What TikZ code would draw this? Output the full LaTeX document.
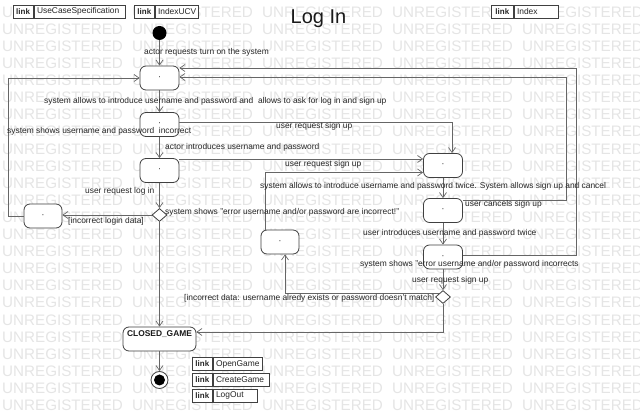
\documentclass[tikz,border=0pt]{standalone}
\usepackage{fontspec}
\setmainfont{Liberation Sans}
\usetikzlibrary{arrows.meta,shapes.geometric,calc}
\begin{document}
\begin{tikzpicture}[x=1pt,y=-1pt,
  font=\fontsize{8.4}{10}\selectfont,
  act/.style={draw=black!75, fill=white, rounded corners=6pt, minimum width=39pt, minimum height=24pt, inner sep=0pt, line width=0.8pt},
  dec/.style={diamond, draw=black!75, fill=white, minimum width=15pt, minimum height=13pt, inner sep=0pt, line width=0.8pt},
  lbl/.style={anchor=west, inner sep=0pt, text=black!85},
  flow/.style={draw=black!60, line width=0.7pt, -{Straight Barb[length=5pt,width=7pt]}},
  wm/.style={anchor=west, inner sep=0pt, text=black!10, font=\fontsize{15.2}{16}\selectfont},
  lk/.style={draw=black!75, fill=white, anchor=west, minimum height=13pt, inner sep=0pt, line width=0.7pt, text=black!85},
  lkh/.style={lk, minimum width=#1, font=\bfseries\fontsize{8}{9}\selectfont},
  lkt/.style={lk, text width=#1, align=left, inner xsep=3pt}
]
\useasboundingbox (0,0) rectangle (640,419);
\fill[white] (0,0) rectangle (640,419);
% watermark
\foreach \r in {0,...,23}{
  \foreach \c in {0,...,4}{
    \node[wm] (wm-\r-\c) at ({2+130*\c},{12+17.1*\r}) {UNREGISTERED};
  }
}
% title and links
\node[font=\fontsize{20}{24}\selectfont, text=black!90] (title) at (318.5,19) {Log In};
\node[lkh=20.5pt] (k1a) at (12.5,11.5) {link};
\node[lkt=85pt] (k1b) at (k1a.east) {UseCaseSpecification};
\node[lkh=20pt] (k2a) at (134,11.5) {link};
\node[lkt=37pt] (k2b) at (k2a.east) {IndexUCV};
\node[lkh=22pt] (k3a) at (491,11.5) {link};
\node[lkt=38pt] (k3b) at (k3a.east) {Index};
\node[lkh=20pt] (k4a) at (192,364) {link};
\node[lkt=43pt] (k4b) at (k4a.east) {OpenGame};
\node[lkh=20pt] (k5a) at (192,379.5) {link};
\node[lkt=50pt] (k5b) at (k5a.east) {CreateGame};
\node[lkh=20pt] (k6a) at (192,395.5) {link};
\node[lkt=38pt] (k6b) at (k6a.east) {LogOut};
% nodes
\node[circle, fill=black, minimum size=14pt, inner sep=0pt] (init) at (159.5,33) {};
\node[act] (A1) at (159.5,78) {·};
\node[act] (A2) at (159.5,124.5) {·};
\node[act] (A3) at (159.5,170.5) {·};
\node[dec] (D1) at (159.5,215) {};
\node[act, minimum width=38pt] (L) at (43,216) {·};
\node[act, minimum width=73pt] (CG) at (159.5,339) {};
\node[font=\bfseries\fontsize{8.4}{10}\selectfont, inner sep=0pt, text=black!90] (CGt) at (159.5,334) {CLOSED\_GAME};
\node[circle, draw=black!75, fill=white, line width=0.8pt, minimum size=17pt, inner sep=0pt] (fin) at (159.5,380) {};
\node[circle, fill=black, minimum size=11pt, inner sep=0pt] (finin) at (fin) {};
\node[act] (B1) at (443,165.5) {·};
\node[act] (B2) at (443,210.5) {·};
\node[act] (B3) at (443,257) {·};
\node[dec] (D2) at (443,297) {};
\node[act, minimum width=38pt] (C) at (280,242) {·};
\coordinate (ri) at (566,77);
\coordinate (ro) at (576,68);
% connectors
\draw[flow] (init) -- (A1);
\draw[flow] (A1) -- (A2);
\draw[flow] (A2) -- (A3);
\draw[flow] (A3) -- (D1);
\draw[flow] (D1.west) -- (D1.west -| L.east);
\draw[flow] (L.west) -- ++(-15,0) |- (A1.west);
\draw[flow] (D1) -- (CG);
\draw[flow] ([yshift=2.5pt]A2.east) -| ([xshift=9pt]B1.north);
\draw[flow] ([yshift=11.5pt]A3.east) -- ([yshift=11.5pt]A3.east -| B1.west);
\draw[flow] ([xshift=-15pt]C.north) |- ([yshift=-7pt]B1.west);
\draw[flow] (B1) -- (B2);
\draw[flow] ([yshift=10pt]B2.east) -| (ri) -- (ri -| A1.east);
\draw[flow] (B2) -- (B3);
\draw[flow] ([yshift=2pt]B3.east) -| (ro) -- (ro -| A1.east);
\draw[flow] (B3) -- (D2);
\draw[flow] (D2.north west) -| ([xshift=5pt]C.south);
\draw[flow] (D2.south) |- ([yshift=7pt]CG.east);
\draw[flow] (CG) -- (fin);
% labels
\node[lbl] (l1) at (144,52) {actor requests turn on the system};
\node[lbl] (l2) at (44,101) {system allows to introduce username and password and\ \ allows to ask for log in and sign up};
\node[lbl] (l3) at (7,131) {system shows username and password\ \ incorrect};
\node[lbl] (l4) at (276,126.5) {user request sign up};
\node[lbl] (l5) at (165,147) {actor introduces username and password};
\node[lbl] (l6) at (285,164) {user request sign up};
\node[lbl] (l7) at (85,191) {user request log in};
\node[lbl] (l8) at (165,212) {system shows "error username and/or password are incorrect!"};
\node[lbl] (l9) at (68,221.5) {[incorrect login data]};
\node[lbl] (l10) at (260,186) {system allows to introduce username and password twice. System allows sign up and cancel};
\node[lbl] (l11) at (465,204) {user cancels sign up};
\node[lbl] (l12) at (363,233) {user introduces username and password twice};
\node[lbl] (l13) at (360,264) {system shows "error username and/or password incorrects};
\node[lbl] (l14) at (412,280) {user request sign up};
\node[lbl] (l15) at (184,298) {[incorrect data: username alredy exists or password doesn't match]};
\end{tikzpicture}
\end{document}
